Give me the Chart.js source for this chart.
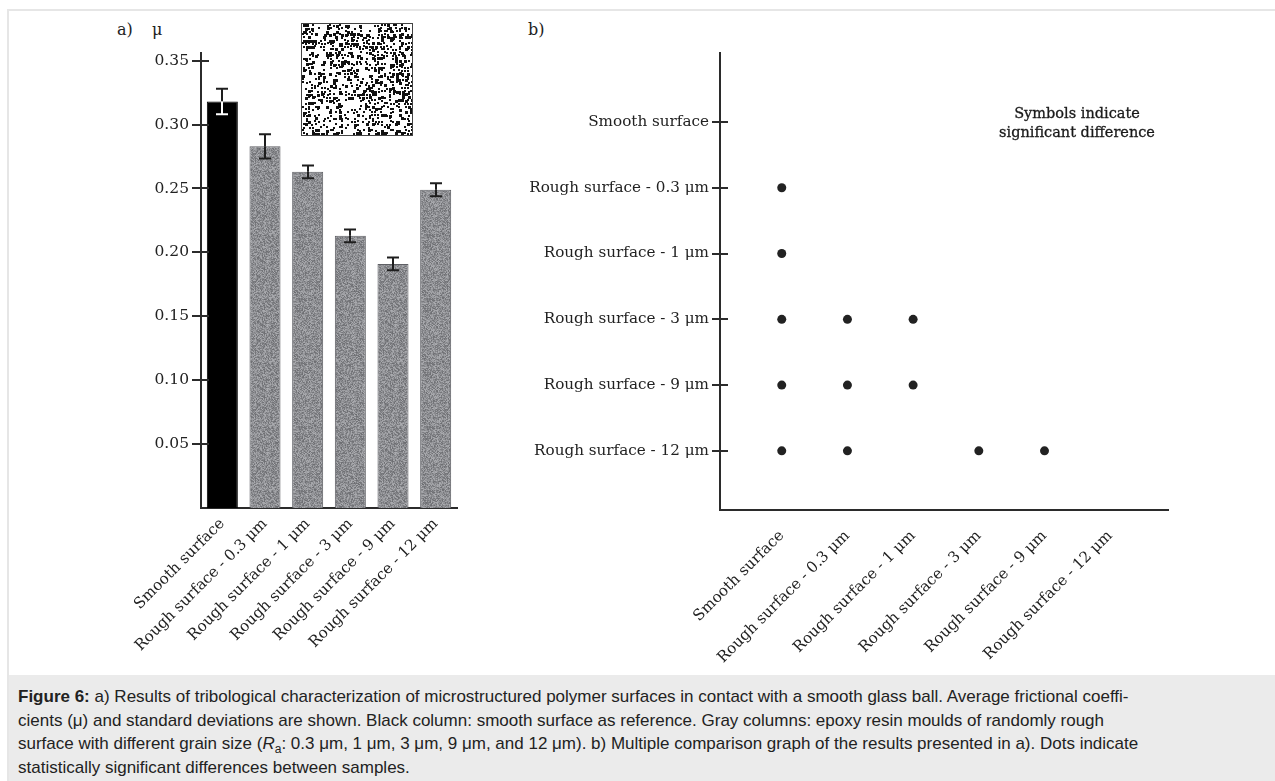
<!DOCTYPE html>
<html>
<head>
<meta charset="utf-8">
<script src="https://cdn.jsdelivr.net/npm/chart.js@4.4.0/dist/chart.umd.min.js"></script>
<style>
  body { margin: 0; width: 1275px; height: 781px; overflow: hidden; background: #fff; position: relative; font-family: "DejaVu Serif", serif; color: #222; }
  .frame { position: absolute; left: 7px; top: 9px; right: 0; bottom: 0; border-top: 2px solid #e6e6e6; border-left: 2px solid #e6e6e6; }
  .lbl { position: absolute; font-size: 16px; line-height: 18px; }
  #chartA { position: absolute; left: 100px; top: 30px; }
  #chartB { position: absolute; left: 520px; top: 30px; }
  #inset { position: absolute; left: 301px; top: 23px; border: 1px solid #444; }
  .note { position: absolute; left: 967px; top: 104px; width: 220px; text-align: center; font-size: 14.5px; line-height: 19px; color: #1a1a1a; -webkit-text-stroke: 0.3px #1a1a1a; }
  .cap { position: absolute; left: 9px; top: 675px; right: 0; bottom: 0; background: #ebebeb; font-family: "Liberation Sans", Arial, sans-serif; font-size: 17px; line-height: 23.5px; color: #222; padding: 10px 0 0 9px; box-sizing: border-box; }
  .cap sub { font-size: 12px; line-height: 0; }
</style>
</head>
<body>
<div class="frame"></div>
<div class="lbl" style="left:117px; top:21px;">a)</div>
<div class="lbl" style="left:152px; top:21px;">μ</div>
<div class="lbl" style="left:528px; top:21px;">b)</div>
<canvas id="inset" width="110" height="111"></canvas>
<canvas id="chartA" width="380" height="640"></canvas>
<canvas id="chartB" width="680" height="640"></canvas>
<div class="note">Symbols indicate<br>significant difference</div>
<div class="cap"><b>Figure 6:</b> a) Results of tribological characterization of microstructured polymer surfaces in contact with a smooth glass ball. Average frictional coeffi-<br>cients (μ) and standard deviations are shown. Black column: smooth surface as reference. Gray columns: epoxy resin moulds of randomly rough<br>surface with different grain size (<i>R</i><sub>a</sub>: 0.3 μm, 1 μm, 3 μm, 9 μm, and 12 μm). b) Multiple comparison graph of the results presented in a). Dots indicate<br>statistically significant differences between samples.</div>

<script>
const surfaces = ['Smooth surface', 'Rough surface - 0.3 μm', 'Rough surface - 1 μm', 'Rough surface - 3 μm', 'Rough surface - 9 μm', 'Rough surface - 12 μm'];
const frictionMean = [0.318, 0.283, 0.263, 0.213, 0.191, 0.249];
const frictionSd = [0.010, 0.0095, 0.005, 0.005, 0.005, 0.005];
const muTicks = [0.05, 0.10, 0.15, 0.20, 0.25, 0.30, 0.35];

// b) pairs with significant difference: row = y category, col = x category
const sigRow = [1, 2, 3, 3, 3, 4, 4, 4, 5, 5, 5, 5];
const sigCol = [0, 0, 0, 1, 2, 0, 1, 2, 0, 1, 3, 4];

Chart.defaults.font.family = "'DejaVu Serif', serif";
Chart.defaults.color = '#222';

// fixed hash so the texture is the same every time
function hash(i, j) {
    const s = Math.sin(i * 12.9898 + j * 78.233) * 43758.5453;
    return s - Math.floor(s);
}

function grayTexture() {
    const c = document.createElement('canvas');
    c.width = 64; c.height = 64;
    const g = c.getContext('2d');
    const img = g.createImageData(64, 64);
    for (let j = 0; j < 64; j++) {
        for (let i = 0; i < 64; i++) {
            const k = (j * 64 + i) * 4;
            const v = 108 + hash(i, j) * 64;
            img.data[k] = v; img.data[k + 1] = v + 1; img.data[k + 2] = v + 5; img.data[k + 3] = 255;
        }
    }
    g.putImageData(img, 0, 0);
    return g.createPattern(c, 'repeat');
}

function drawInset() {
    const c = document.getElementById('inset');
    const g = c.getContext('2d');
    g.fillStyle = '#fff';
    g.fillRect(0, 0, c.width, c.height);
    g.fillStyle = '#111';
    for (let j = 0; j < c.height; j += 3) {
        for (let i = 0; i < c.width; i += 3) {
            const clump = hash(Math.floor(i / 12) + 5, Math.floor(j / 12) + 40);
            if (hash(i + 3, j + 7) < 0.38 + clump * 0.4) {
                const dx = hash(i + 11, j) < 0.5 ? 0 : 1;
                const dy = hash(i, j + 13) < 0.5 ? 0 : 1;
                const w = hash(i + 2, j + 5) < 0.3 ? 3 : 2;
                g.fillRect(i + dx, j + dy, w, w);
            }
        }
    }
}
drawInset();

const crossTicks = {
    id: 'crossTicks',
    afterDraw(chart, args, opts) {
        if (!opts.axes) return;
        const ctx = chart.ctx;
        ctx.save();
        ctx.strokeStyle = '#2b2b2b';
        ctx.lineWidth = 2;
        opts.axes.forEach(a => {
            const s = chart.scales[a.id];
            s.ticks.forEach((t, i) => {
                const p = Math.round(s.getPixelForTick(i));
                ctx.beginPath();
                if (s.isHorizontal()) {
                    ctx.moveTo(p, s.top - a.out); ctx.lineTo(p, s.top + a.in);
                } else {
                    ctx.moveTo(s.right - a.out, p); ctx.lineTo(s.right + a.in, p);
                }
                ctx.stroke();
            });
        });
        ctx.restore();
    }
};

const errorBars = {
    id: 'errorBars',
    afterDatasetsDraw(chart, args, opts) {
        if (!opts.sd) return;
        const ctx = chart.ctx;
        const y = chart.scales.y;
        const ds = chart.data.datasets[0];
        ctx.save();
        ctx.lineWidth = 2;
        chart.getDatasetMeta(0).data.forEach((bar, i) => {
            const v = ds.data[i];
            const x = Math.round(bar.x);
            const hi = y.getPixelForValue(v + opts.sd[i]);
            const lo = y.getPixelForValue(v - opts.sd[i]);
            const lowColor = i === 0 ? '#fff' : '#1e1e1e';
            ctx.strokeStyle = '#1e1e1e';
            ctx.beginPath();
            ctx.moveTo(x, hi); ctx.lineTo(x, bar.y);
            ctx.moveTo(x - 6, hi); ctx.lineTo(x + 6, hi);
            ctx.stroke();
            ctx.strokeStyle = lowColor;
            ctx.beginPath();
            ctx.moveTo(x, bar.y); ctx.lineTo(x, lo);
            ctx.moveTo(x - 6, lo); ctx.lineTo(x + 6, lo);
            ctx.stroke();
        });
        ctx.restore();
    }
};

const axisBorder = { display: true, color: '#2b2b2b', width: 2 };
const tex = grayTexture();

new Chart(document.getElementById('chartA'), {
    type: 'bar',
    data: {
        labels: surfaces,
        datasets: [{
            data: frictionMean,
            backgroundColor: surfaces.map((s, i) => i === 0 ? '#000' : tex),
            borderColor: surfaces.map((s, i) => i === 0 ? '#000' : '#5e5f64'),
            borderWidth: 1,
            categoryPercentage: 1,
            barPercentage: 0.727
        }]
    },
    options: {
        responsive: false,
        animation: false,
        devicePixelRatio: 1,
        layout: { padding: { left: 0, top: 23, right: 23, bottom: 0 } },
        plugins: {
            legend: { display: false },
            tooltip: { enabled: false },
            crossTicks: { axes: [{ id: 'y', out: 9, in: 8 }] },
            errorBars: { sd: frictionSd }
        },
        scales: {
            x: {
                grid: { display: false, drawTicks: false },
                border: axisBorder,
                ticks: { font: { size: 15.2 }, minRotation: 45, maxRotation: 45, padding: 7, autoSkip: false },
                afterFit: s => { s.height = 162; }
            },
            y: {
                min: 0,
                max: 0.356,
                grid: { display: false, drawTicks: false },
                border: axisBorder,
                ticks: { font: { size: 15.5 }, padding: 12, callback: v => v.toFixed(2) },
                afterBuildTicks: s => { s.ticks = muTicks.map(v => ({ value: v })); },
                afterFit: s => { s.width = 101; }
            }
        }
    },
    plugins: [crossTicks, errorBars]
});

new Chart(document.getElementById('chartB'), {
    type: 'scatter',
    data: {
        datasets: [{
            data: sigRow.map((r, i) => ({ x: sigCol[i], y: r })),
            backgroundColor: '#222',
            borderWidth: 0,
            pointRadius: 4.5
        }]
    },
    options: {
        responsive: false,
        animation: false,
        devicePixelRatio: 1,
        layout: { padding: { left: 0, top: 23, right: 32, bottom: 0 } },
        plugins: {
            legend: { display: false },
            tooltip: { enabled: false },
            crossTicks: { axes: [{ id: 'y', out: 8, in: 8 }, { id: 'x', out: -7, in: 7 }] }
        },
        scales: {
            x: {
                type: 'linear',
                min: -0.94,
                max: 5.88,
                grid: { display: false, drawTicks: false },
                border: axisBorder,
                ticks: { font: { size: 15.2 }, minRotation: 45, maxRotation: 45, padding: 17, autoSkip: false, callback: v => surfaces[v] },
                afterBuildTicks: s => { s.ticks = surfaces.map((n, i) => ({ value: i })); },
                afterFit: s => { s.height = 160; }
            },
            y: {
                type: 'linear',
                reverse: true,
                min: -1.05,
                max: 5.9,
                grid: { display: false, drawTicks: false },
                border: axisBorder,
                ticks: { font: { size: 15.2 }, padding: 11, autoSkip: false, callback: v => surfaces[v] },
                afterBuildTicks: s => { s.ticks = surfaces.map((n, i) => ({ value: i })); },
                afterFit: s => { s.width = 200; }
            }
        }
    },
    plugins: [crossTicks]
});
</script>
</body>
</html>
